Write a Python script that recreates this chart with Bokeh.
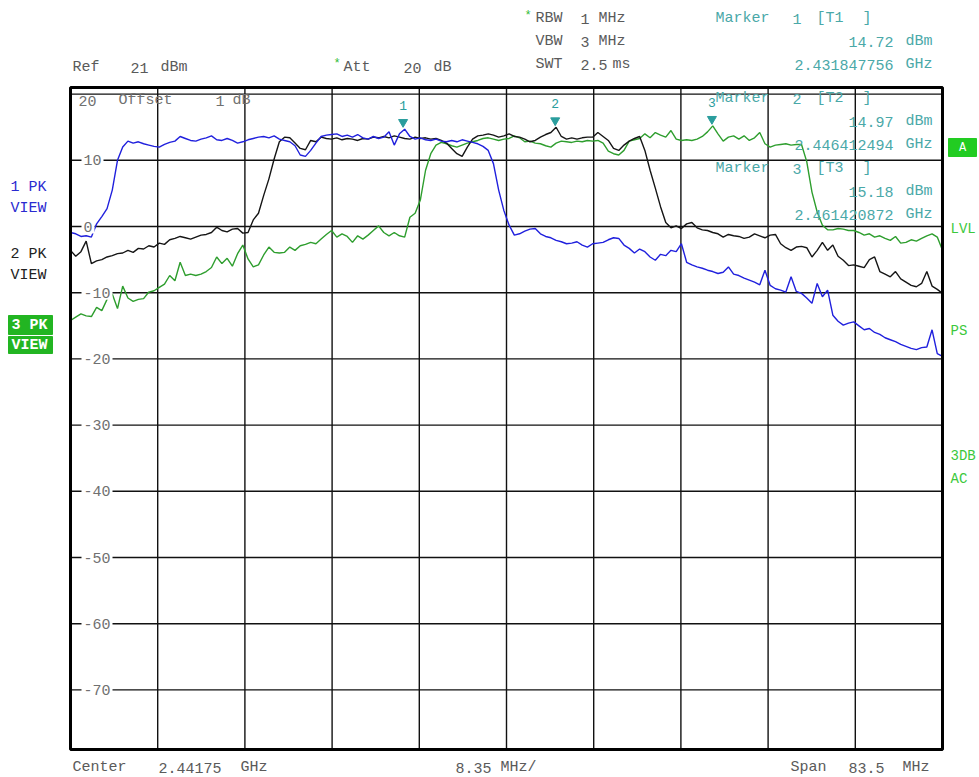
import numpy as np
from bokeh.plotting import figure
from bokeh.models import Range1d, Label
from bokeh.core.properties import value
from bokeh.embed import file_html
from bokeh.resources import INLINE

# ---- sweep settings -------------------------------------------------------
CENTER_GHZ = 2.44175
SPAN_MHZ = 83.5
REF_DBM = 21
DB_PER_DIV = 10
N_DIV = 10
F_START = CENTER_GHZ - SPAN_MHZ / 2000.0
F_STOP = CENTER_GHZ + SPAN_MHZ / 2000.0
BOTTOM_DBM = REF_DBM - DB_PER_DIV * N_DIV

# sweep points every 0.5 MHz from the start frequency
freq_ghz = F_START + np.arange(168) * 0.0005

# trace 1 (blue): low channel
trace1_dbm = [
    -0.9, -1.1, -1.5, -1.4, -1.6, 0.4, 1.5, 2.7, 5.5, 10.0,
    12.0, 12.9, 12.6, 12.8, 12.5, 12.3, 12.1, 12.0, 12.4, 12.7,
    12.9, 13.6, 13.3, 13.0, 12.9, 13.2, 13.4, 13.7, 13.1, 13.0,
    13.3, 13.0, 12.6, 12.8, 13.1, 13.3, 13.5, 13.6, 13.4, 13.7,
    13.2, 13.0, 12.8, 12.2, 10.8, 10.6, 11.5, 12.6, 13.6, 13.8,
    13.9, 14.0, 13.6, 13.8, 13.5, 13.9, 13.4, 13.2, 13.6, 13.3,
    13.5, 14.3, 12.3, 14.0, 14.7, 13.6, 13.2, 13.4, 13.1, 13.0,
    13.2, 12.9, 12.8, 13.0, 12.8, 13.1, 12.9, 12.7, 12.5, 12.1,
    11.5, 9.5, 5.5, 2.4, 0.2, -1.3, -1.1, -0.7, -0.4, -0.3,
    -1.1, -1.5, -1.7, -2.1, -2.3, -2.6, -2.5, -2.3, -2.8, -3.1,
    -2.6, -2.5, -2.4, -2.0, -1.7, -1.8, -2.8, -3.3, -4.0, -3.4,
    -3.8, -4.6, -5.1, -4.2, -4.4, -3.6, -3.8, -2.6, -5.4, -5.8,
    -6.1, -6.3, -6.6, -6.8, -7.1, -6.9, -6.1, -7.2, -7.4, -7.8,
    -8.1, -8.4, -8.8, -6.6, -8.9, -9.4, -9.6, -9.9, -7.6, -9.8,
    -10.1, -10.8, -11.6, -8.6, -10.6, -9.6, -13.4, -14.3, -14.9, -14.6,
    -14.4, -15.0, -15.6, -15.4, -16.0, -16.3, -16.8, -17.1, -17.4, -17.8,
    -18.1, -18.4, -18.6, -18.3, -18.2, -15.6, -19.2, -19.6,
]

# trace 2 (black): middle channel
trace2_dbm = [
    -3.6, -4.5, -3.8, -2.2, -5.6, -5.2, -5.0, -4.6, -4.4, -4.1,
    -4.0, -3.6, -3.9, -3.3, -3.4, -2.9, -3.1, -2.5, -2.7, -2.0,
    -1.8, -1.5, -1.7, -1.9, -1.6, -1.3, -1.2, -0.9, -0.1, -0.6,
    -0.8, -0.4, -0.3, -1.0, -0.9, 1.0, 2.0, 4.7, 7.2, 10.2,
    12.8, 13.5, 13.4, 12.6, 11.8, 11.6, 13.0, 12.8, 13.5, 13.3,
    13.2, 13.4, 13.1, 13.3, 13.2, 13.0, 13.3, 13.2, 13.5, 13.4,
    13.6, 13.4, 13.7, 13.5, 13.3, 13.2, 13.5, 13.3, 13.4, 13.2,
    13.3, 13.0, 12.6, 11.8, 11.0, 10.6, 12.0, 13.2, 13.7, 13.8,
    14.0, 13.8, 13.5, 13.7, 14.0, 13.6, 13.5, 13.2, 12.8, 13.0,
    13.5, 13.9, 14.2, 15.0, 13.6, 13.2, 13.4, 13.2, 13.4, 13.5,
    13.5, 14.2, 13.6, 13.0, 11.8, 11.5, 12.3, 12.9, 13.3, 13.6,
    11.5, 8.5, 5.8, 3.0, 0.6, -0.2, 0.1, -0.3, 0.4, 0.6,
    -0.2, -0.5, -0.6, -0.9, -1.1, -1.6, -1.2, -1.4, -1.5, -1.8,
    -1.6, -1.1, -1.4, -1.7, -1.3, -1.2, -2.6, -3.2, -3.6, -3.1,
    -3.0, -3.2, -4.6, -3.6, -2.4, -3.6, -2.8, -4.5, -5.1, -5.9,
    -5.8, -6.0, -6.2, -5.0, -4.6, -6.8, -7.2, -7.6, -6.8, -7.9,
    -8.4, -8.9, -9.1, -8.6, -6.8, -9.0, -9.5, -10.1,
]

# trace 3 (green): high channel
trace3_dbm = [
    -14.2, -13.7, -13.2, -13.5, -13.6, -12.2, -12.7, -11.0, -10.2, -12.4,
    -9.0, -10.8, -11.3, -11.0, -10.9, -9.9, -9.7, -9.2, -8.7, -7.4,
    -8.2, -5.4, -7.4, -7.2, -7.4, -7.2, -6.8, -6.2, -4.6, -5.6,
    -4.8, -6.0, -4.1, -2.8, -4.9, -6.1, -5.8, -4.3, -3.1, -3.9,
    -4.0, -3.9, -3.1, -3.6, -2.9, -2.7, -2.4, -2.6, -1.9, -1.2,
    -0.6, -1.6, -1.1, -1.5, -2.4, -1.4, -1.9, -1.3, -0.6, 0.1,
    -0.9, -1.4, -0.9, -1.4, -1.6, 1.4, 2.0, 4.0, 8.5, 11.0,
    12.3, 12.7, 12.5, 12.2, 12.0, 12.3, 12.6, 12.8, 13.0, 13.3,
    13.4, 13.2, 13.0, 13.2, 13.3, 13.7, 13.4, 12.8, 12.9, 12.6,
    12.5, 12.2, 12.0, 12.6, 12.9, 12.8, 12.7, 12.9, 12.8, 13.0,
    12.9, 13.0, 12.6, 11.4, 11.0, 10.8, 11.5, 12.9, 13.1, 13.3,
    14.0, 13.4, 14.2, 13.8, 13.5, 14.5, 13.2, 13.0, 13.1, 13.0,
    13.2, 13.6, 14.3, 15.2, 14.0, 12.9, 13.5, 13.7, 13.2, 13.7,
    13.0, 13.4, 14.2, 12.5, 12.0, 12.3, 12.4, 12.5, 12.3, 12.4,
    12.4, 9.8, 5.2, 2.2, 0.2, -0.5, -0.5, -0.3, -0.4, -0.6,
    -0.6, -0.9, -1.3, -1.1, -1.6, -1.4, -1.8, -2.1, -1.5, -2.5,
    -2.4, -2.0, -2.2, -1.8, -1.4, -1.1, -1.6, -3.6,
]

# markers
marker_id = ["1", "2", "3"]
marker_trace = ["T1", "T2", "T3"]
marker_freq_ghz = [2.431847756, 2.446412494, 2.461420872]
marker_level_dbm = [14.72, 14.97, 15.18]

# y grid lines / tick labels
grid_db = [20, 10, 0, -10, -20, -30, -40, -50, -60, -70]

# ---- canvas / diagram geometry -------------------------------------------
W, H = 979, 777
FL, FT, FR, FB = 70, 87, 942, 749   # diagram edges in canvas pixels
span_ghz = F_STOP - F_START


def gx(px):
    return F_START + (px - FL) / (FR - FL) * span_ghz


def gy(py):
    return REF_DBM - (py - FT) / (FB - FT) * (REF_DBM - BOTTOM_DBM)


# the plot frame covers the whole canvas so the screen texts around the
# diagram can be placed with the same scales as the traces
p = figure(width=W, height=H, title=None,
           x_range=Range1d(gx(0), gx(W)), y_range=Range1d(gy(H), gy(0)),
           x_axis_location=None, y_axis_location=None,
           toolbar_location=None, output_backend="svg",
           min_border=0, min_border_left=0, min_border_right=0,
           min_border_top=0, min_border_bottom=0,
           background_fill_color="white", border_fill_color="white",
           outline_line_color=None)
p.grid.visible = False

# graticule
xdiv = [F_START + k * span_ghz / N_DIV for k in range(1, N_DIV)]
p.segment(x0=xdiv, y0=[BOTTOM_DBM] * len(xdiv), x1=xdiv, y1=[REF_DBM] * len(xdiv),
          line_color="#111111", line_width=1.4)
p.segment(x0=[F_START] * len(grid_db), y0=grid_db, x1=[F_STOP] * len(grid_db), y1=grid_db,
          line_color="#111111", line_width=1.4)

MONO = "Liberation Mono"


def label(text, px, py, color="#5a5a5a", size="15px", align="left", bg=None, pad=0, style="normal"):
    lab = Label(x=gx(px), y=gy(py), text=text, text_font=MONO, text_font_size=size,
                text_color=color, text_align=align, text_baseline="middle",
                text_font_style=style)
    if bg is not None:
        lab.background_fill_color = bg
        lab.padding = pad
    p.add_layout(lab)
    return lab


def words(items, py, color="#5a5a5a", size="15px"):
    for text, px in items:
        label(text, px, py, color=color, size=size)


def box(x0, y0, x1, y1, color):
    p.quad(left=gx(x0), right=gx(x1), top=gy(y0), bottom=gy(y1),
           fill_color=color, line_color=color)


# traces
p.line(freq_ghz, trace3_dbm, line_color="#2e9e2e", line_width=1.4)
p.line(freq_ghz, trace2_dbm, line_color="#151515", line_width=1.4)
p.line(freq_ghz, trace1_dbm, line_color="#2020dd", line_width=1.4)

# diagram border
p.quad(left=F_START, right=F_STOP, bottom=BOTTOM_DBM, top=REF_DBM,
       fill_color=None, line_color="black", line_width=3)

# y tick labels sitting on the grid lines
for v in grid_db[1:]:
    label(str(v), 81, FT + (REF_DBM - v) / (REF_DBM - BOTTOM_DBM) * (FB - FT),
          color="#707070", size="15px", bg="white", pad=2)
words([(str(grid_db[0]), 78), ("Offset", 118), ("1", 215), ("dB", 232)], 100, color="#707070")

# marker symbols and numbers
TEAL = "#2a9d9d"
tri_y = [v + 1.05 for v in marker_level_dbm]
p.scatter(marker_freq_ghz, tri_y, marker="inverted_triangle", size=9,
          fill_color=TEAL, line_color=TEAL)
p.text(marker_freq_ghz, marker_level_dbm, text=marker_id, y_offset=-24,
       text_align="center", text_baseline="middle", text_color=TEAL,
       text_font=value(MONO), text_font_size="13px")

# header: instrument settings
GREEN_STAR = "#33bb33"
words([("Ref", 72), (str(REF_DBM), 130), ("dBm", 160)], 67)
label("*", 333, 63, color=GREEN_STAR, size="12px")
words([("Att", 343), ("20", 403), ("dB", 433)], 67)
label("*", 524, 15, color=GREEN_STAR, size="12px")
words([("RBW", 535), ("1", 580), ("MHz", 598)], 18)
words([("VBW", 535), ("3", 580), ("MHz", 598)], 41)
words([("SWT", 535), ("2.5", 580), ("ms", 612)], 64)

# marker readouts
MTXT = "#4aa8a8"
for i, (mid, tr, f, lv) in enumerate(zip(marker_id, marker_trace, marker_freq_ghz, marker_level_dbm)):
    top = [18, 98, 168][i]
    words([("Marker", 715), (mid, 792), ("[" + tr, 816), ("]", 862)], top, color=MTXT)
    label(f"{lv:.2f}", 893, top + 23, color=MTXT, align="right")
    label("dBm", 905, top + 23, color=MTXT)
    label(f"{f:.9f}", 893, top + 46, color=MTXT, align="right")
    label("GHz", 905, top + 46, color=MTXT)

# footer
words([("Center", 72), (f"{CENTER_GHZ}", 158), ("GHz", 240)], 767)
words([(f"{SPAN_MHZ / N_DIV:.2f}", 455), ("MHz/", 500)], 767)
words([("Span", 790), (f"{SPAN_MHZ}", 848), ("MHz", 902)], 767)

# left side trace indicators
words([("1 PK", 10)], 187, color="#2a2ad0")
words([("VIEW", 10)], 208, color="#2a2ad0")
words([("2 PK", 10)], 254, color="#222222")
words([("VIEW", 10)], 275, color="#222222")
box(8, 315, 52, 334, "#22b522")
box(8, 336, 52, 353, "#22b522")
label("3 PK", 11, 325, color="white", style="bold")
label("VIEW", 11, 345, color="white", style="bold")

# right side enhancement labels
GRN = "#3cc83c"
box(948, 138, 976, 156, "#22cc22")
label("A", 962, 147, color="white", size="12px", align="center")
label("LVL", 950, 228, color=GRN, size="14px")
label("PS", 950, 330, color=GRN, size="14px")
label("3DB", 950, 455, color=GRN, size="14px")
label("AC", 950, 478, color=GRN, size="14px")

open("out.html", "w").write(file_html(p, INLINE))
